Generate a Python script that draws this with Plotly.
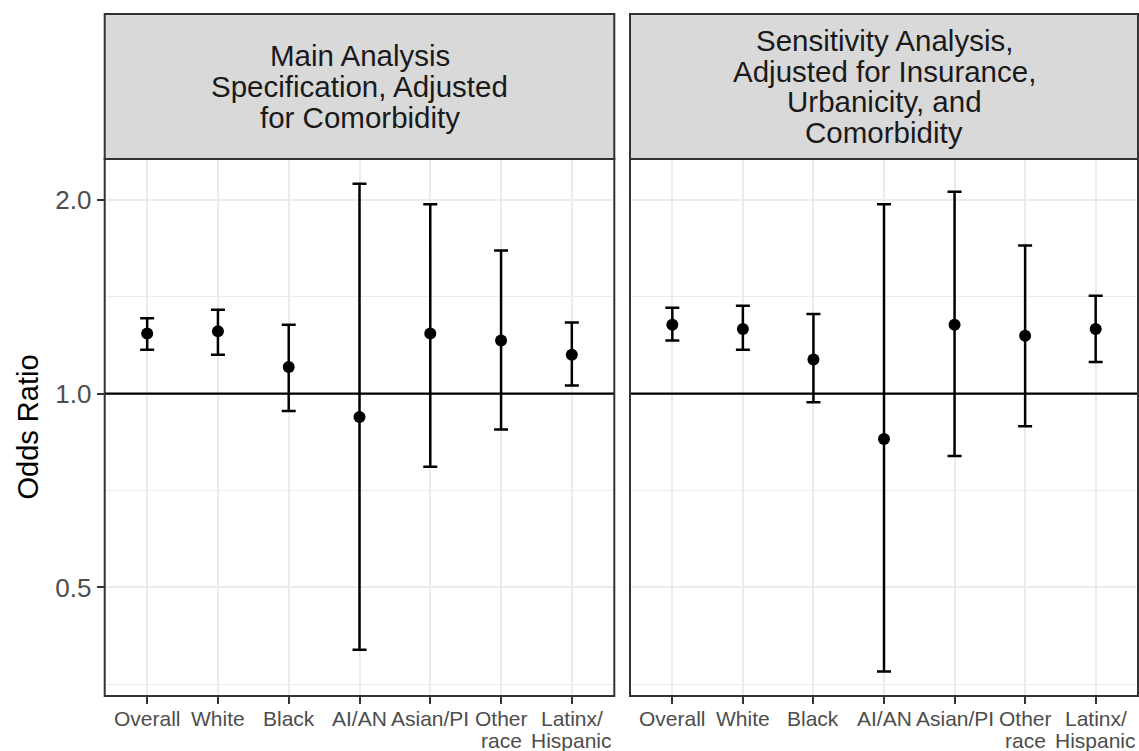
import math
import plotly.graph_objects as go

# ---- data ----
categories = ["Overall", "White", "Black", "AI/AN", "Asian/PI", "Other<br>race", "Latinx/<br>Hispanic"]

main_or = [1.24, 1.25, 1.10, 0.92, 1.24, 1.21, 1.15]
main_lo = [1.17, 1.15, 0.94, 0.40, 0.77, 0.88, 1.03]
main_hi = [1.31, 1.35, 1.28, 2.12, 1.97, 1.67, 1.29]

sens_or = [1.28, 1.26, 1.13, 0.85, 1.28, 1.23, 1.26]
sens_lo = [1.21, 1.17, 0.97, 0.37, 0.80, 0.89, 1.12]
sens_hi = [1.36, 1.37, 1.33, 1.97, 2.06, 1.70, 1.42]

panel_titles = [
    ["Main Analysis", "Specification, Adjusted", "for Comorbidity"],
    ["Sensitivity Analysis,", "Adjusted for Insurance,", "Urbanicity, and", "Comorbidity"],
]
y_ticks = [0.5, 1.0, 2.0]
y_ticklabels = ["0.5", "1.0", "2.0"]
y_minor = [0.3536, 0.7071, 1.4142]
y_title = "Odds Ratio"

# ---- layout geometry (pixels) ----
W, H = 1139, 751
px = lambda v: v / W
py = lambda v: 1 - v / H
panels_x = [(104.7, 614.3), (630.0, 1138.0)]
strip_top, panel_top, panel_bot = 14.0, 159.0, 696.0
FONT = "Liberation Sans, Arial, Helvetica, sans-serif"

fig = go.Figure()

series = [(main_or, main_lo, main_hi), (sens_or, sens_lo, sens_hi)]
for i, (o, lo, hi) in enumerate(series):
    ax = "" if i == 0 else "2"
    fig.add_trace(go.Scatter(
        x=categories, y=o, mode="markers",
        marker=dict(color="black", size=12),
        error_y=dict(type="data", symmetric=False,
                     array=[h - v for h, v in zip(hi, o)],
                     arrayminus=[v - l for v, l in zip(o, lo)],
                     color="black", thickness=2.5, width=7),
        xaxis="x" + ax, yaxis="y" + ax, showlegend=False,
    ))

common_x = dict(
    type="category", categoryorder="array", categoryarray=categories,
    range=[-0.6, 6.6], showgrid=True, gridcolor="#EBEBEB", gridwidth=1.6,
    ticks="outside", ticklen=7, tickwidth=2, tickcolor="#333333",
    showticklabels=False,
    showline=False, zeroline=False, fixedrange=True, automargin=False,
)
common_y = dict(
    type="log", range=[math.log10(0.339), math.log10(2.316)],
    tickmode="array", tickvals=y_ticks, ticktext=y_ticklabels,
    showgrid=True, gridcolor="#EBEBEB", gridwidth=1.6,
    minor=dict(tickmode="array", tickvals=y_minor, showgrid=True,
               gridcolor="#EBEBEB", gridwidth=1.2, ticks=""),
    zeroline=False, showline=False, automargin=False,
    domain=[py(panel_bot), py(panel_top)],
)

fig.update_layout(
    width=W, height=H, margin=dict(l=0, r=0, t=0, b=0, autoexpand=False),
    paper_bgcolor="white", plot_bgcolor="white",
    font=dict(family=FONT), showlegend=False,
    xaxis=dict(common_x, domain=[px(panels_x[0][0]), px(panels_x[0][1])], anchor="y"),
    xaxis2=dict(common_x, domain=[px(panels_x[1][0]), px(panels_x[1][1])], anchor="y2"),
    yaxis=dict(common_y, anchor="x", ticks="outside", ticklen=7, tickwidth=2,
               tickcolor="#333333", tickfont=dict(size=26, color="#4D4D4D", family=FONT)),
    yaxis2=dict(common_y, anchor="x2", ticks="", showticklabels=False),
)

shapes = []
annotations = []
for i, (x0, x1) in enumerate(panels_x):
    ax = "" if i == 0 else "2"
    shapes.append(dict(type="line", xref="x" + ax + " domain", yref="y" + ax,
                       x0=0, x1=1, y0=1, y1=1, line=dict(color="black", width=2.3)))
    shapes.append(dict(type="rect", xref="paper", yref="paper",
                       x0=px(x0), x1=px(x1), y0=py(panel_bot), y1=py(panel_top),
                       line=dict(color="#333333", width=2), fillcolor="rgba(0,0,0,0)"))
    shapes.append(dict(type="rect", xref="paper", yref="paper",
                       x0=px(x0), x1=px(x1), y0=py(panel_top), y1=py(strip_top),
                       line=dict(color="#333333", width=2), fillcolor="#D9D9D9", layer="below"))
    lines = panel_titles[i]
    n = len(lines)
    spacing = 30.6
    center = (strip_top + panel_top) / 2
    for k, t in enumerate(lines):
        yc = center + (k - (n - 1) / 2) * spacing
        annotations.append(dict(text=t, xref="paper", yref="paper",
                                x=px((x0 + x1) / 2), y=py(yc), xanchor="center", yanchor="middle",
                                showarrow=False, font=dict(size=29.5, color="#1A1A1A", family=FONT)))
    # category tick labels (tight line spacing, as in the reference)
    for cat in categories:
        for k, part in enumerate(cat.split("<br>")):
            annotations.append(dict(text=part, xref="x" + ax, yref="paper",
                                    x=cat, y=py(718.5 + 21.5 * k), xanchor="center", yanchor="middle",
                                    showarrow=False,
                                    font=dict(size=21, color="#4D4D4D", family=FONT)))

annotations.append(dict(text=y_title, xref="paper", yref="paper", x=px(27), y=py((panel_top + panel_bot) / 2),
                        xanchor="center", yanchor="middle", textangle=-90, showarrow=False,
                        font=dict(size=29, color="black", family=FONT)))

fig.update_layout(shapes=shapes, annotations=annotations)
fig.write_html("out.html")
